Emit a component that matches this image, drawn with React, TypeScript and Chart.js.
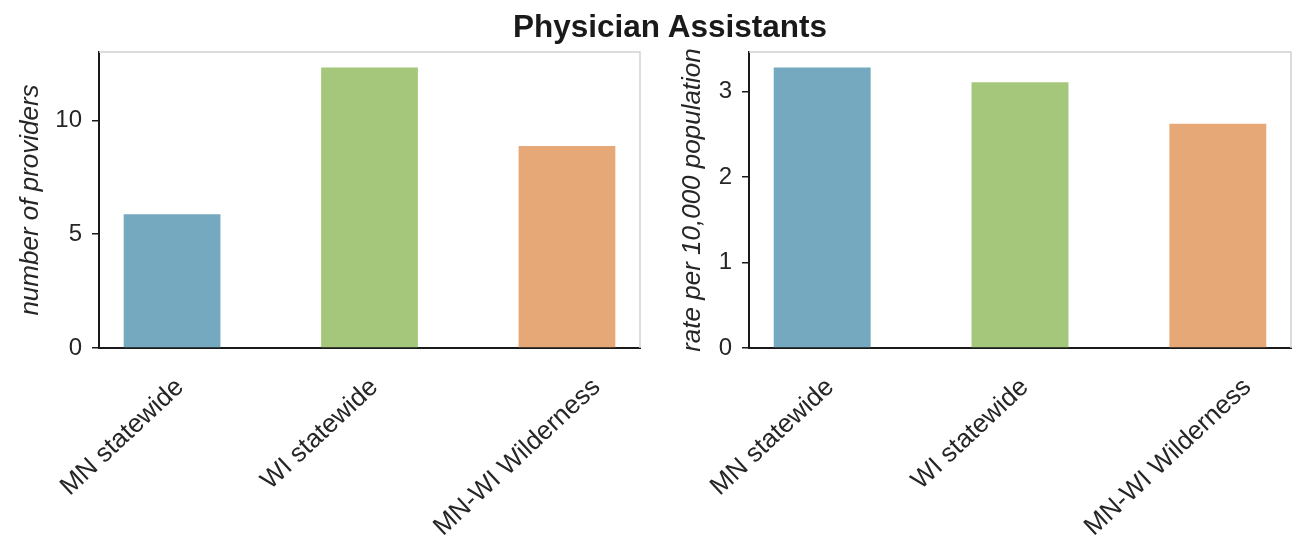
import React, { useEffect, useRef } from "react";
import { Chart, registerables } from "chart.js";

Chart.register(...registerables);

// ---- data ----
const categories = ["MN statewide", "WI statewide", "MN-WI Wilderness"];
const providerCounts = [5.87, 12.32, 8.87];
const ratesPer10k = [3.28, 3.105, 2.62];
const barColors = ["#74A9BF", "#A4C77B", "#E7A877"];
const countTicks = [0, 5, 10];
const rateTicks = [0, 1, 2, 3];
const titleText = "Physician Assistants";
const countAxisLabel = "number of providers";
const rateAxisLabel = "rate per 10,000 population";

const FONT = "'Liberation Sans', Arial, Helvetica, sans-serif";
const TEXT = "#262626";
const AXIS = "#1a1a1a";

// category label styling (rotated, box centred left of the bar, as in the source)
const LABEL_SIZE = 26;
const LABEL_ANGLE = 43;
const LABEL_SHIFT_X = -51;
const LABEL_GAP = 27;

const framePlugin = {
  id: "frame",
  afterDraw(chart: any) {
    const { ctx, chartArea: a } = chart;
    ctx.save();
    ctx.strokeStyle = "#d2d2d2";
    ctx.lineWidth = 1.5;
    ctx.beginPath();
    ctx.moveTo(a.left, a.top);
    ctx.lineTo(a.right, a.top);
    ctx.lineTo(a.right, a.bottom);
    ctx.stroke();
    ctx.restore();
  },
};

const xLabelPlugin = {
  id: "xLabels",
  afterDraw(chart: any) {
    const scale = chart.scales.x;
    const ctx = chart.ctx;
    const ang = (LABEL_ANGLE * Math.PI) / 180;
    const c = Math.cos(ang);
    const s = Math.sin(ang);
    ctx.save();
    ctx.font = `${LABEL_SIZE}px ${FONT}`;
    ctx.fillStyle = TEXT;
    ctx.textAlign = "center";
    ctx.textBaseline = "middle";
    scale.ticks.forEach((t: any) => {
      const label = categories[t.value];
      if (label === undefined) return;
      const px = scale.getPixelForValue(t.value);
      const L = ctx.measureText(label).width;
      const h = LABEL_SIZE * 0.74;
      const bh = L * s + h * c;
      const cx = px + LABEL_SHIFT_X;
      const cy = scale.top + LABEL_GAP + bh / 2;
      ctx.save();
      ctx.translate(cx, cy);
      ctx.rotate(-ang);
      ctx.fillText(label, 0, 2);
      ctx.restore();
    });
    ctx.restore();
  },
};

function makeConfig(
  values: number[],
  yMax: number,
  yTicks: number[],
  yLabel: string,
  yTitlePad: number,
  rightPad: number
): any {
  return {
    type: "bar",
    data: {
      datasets: [
        {
          data: categories.map((_, i) => ({ x: i, y: values[i] })),
          backgroundColor: barColors,
          borderWidth: 0,
          barPercentage: 0.49,
          categoryPercentage: 1,
        },
      ],
    },
    options: {
      responsive: false,
      animation: false,
      layout: { padding: { top: 52, right: rightPad, left: 0, bottom: 0 } },
      plugins: {
        legend: { display: false },
        tooltip: { enabled: false },
        title: { display: false },
      },
      scales: {
        x: {
          type: "linear",
          min: -0.37,
          max: 2.37,
          bounds: "data",
          offset: false,
          afterBuildTicks: (axis: any) => {
            axis.ticks = categories.map((_, i) => ({ value: i }));
          },
          afterFit: (sc: any) => {
            sc.height = 192;
          },
          ticks: { display: false, autoSkip: false },
          grid: { display: false, drawTicks: false, offset: false },
          border: { display: true, color: AXIS, width: 2 },
        },
        y: {
          type: "linear",
          min: 0,
          max: yMax,
          bounds: "data",
          afterBuildTicks: (axis: any) => {
            axis.ticks = yTicks.map((v) => ({ value: v }));
          },
          afterFit: (sc: any) => {
            sc.width = 99;
          },
          ticks: {
            padding: 10,
            color: TEXT,
            font: { family: FONT, size: 24 },
          },
          grid: {
            drawOnChartArea: false,
            drawTicks: true,
            tickLength: 7,
            color: AXIS,
            lineWidth: 1.5,
          },
          border: { display: true, color: AXIS, width: 2 },
          title: {
            display: true,
            text: yLabel,
            color: TEXT,
            font: { family: FONT, size: 26, style: "italic" },
            padding: { top: yTitlePad, bottom: 0 },
          },
        },
      },
    },
    plugins: [framePlugin, xLabelPlugin],
  };
}

function BarPanel(props: {
  values: number[];
  yMax: number;
  yTicks: number[];
  yLabel: string;
  yTitlePad: number;
  rightPad: number;
  left: number;
  width: number;
}) {
  const ref = useRef<HTMLCanvasElement | null>(null);
  useEffect(() => {
    if (!ref.current) return;
    const chart = new Chart(
      ref.current,
      makeConfig(props.values, props.yMax, props.yTicks, props.yLabel, props.yTitlePad, props.rightPad)
    );
    return () => chart.destroy();
  }, []);
  return (
    <canvas
      ref={ref}
      width={props.width}
      height={540}
      style={{ position: "absolute", left: props.left, top: 0, width: props.width, height: 540, display: "block" }}
    />
  );
}

export default function App() {
  return (
    <div style={{ position: "absolute", left: 0, top: 0, width: 1293, height: 540, background: "#fff", overflow: "hidden" }}>
      <BarPanel
        values={providerCounts}
        yMax={13.0}
        yTicks={countTicks}
        yLabel={countAxisLabel}
        yTitlePad={15}
        rightPad={10}
        left={0}
        width={650}
      />
      <BarPanel
        values={ratesPer10k}
        yMax={3.46}
        yTicks={rateTicks}
        yLabel={rateAxisLabel}
        yTitlePad={27}
        rightPad={2}
        left={650}
        width={643}
      />
      <div
        style={{
          position: "absolute",
          left: 270,
          top: 11,
          width: 800,
          textAlign: "center",
          fontFamily: FONT,
          fontWeight: "bold",
          fontSize: 31.5,
          lineHeight: "31px",
          color: "#1a1a1a",
        }}
      >
        {titleText}
      </div>
    </div>
  );
}
